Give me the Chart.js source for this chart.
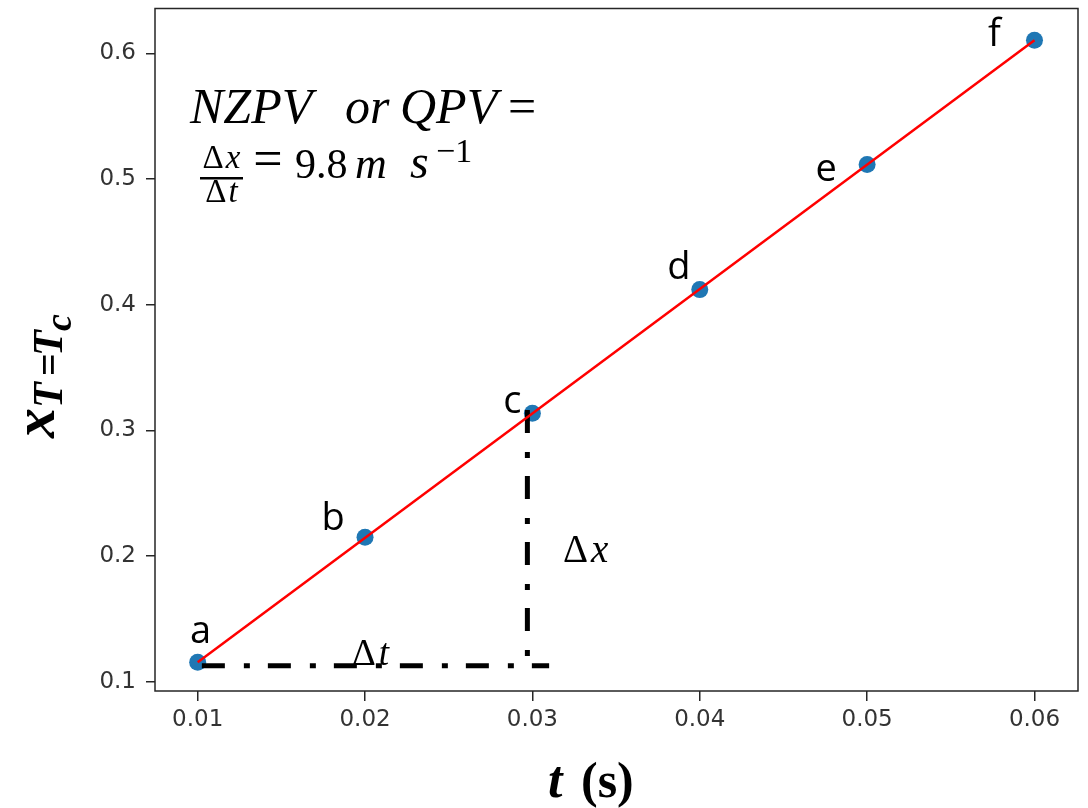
<!DOCTYPE html>
<html><head><meta charset="utf-8">
<script src="https://cdn.jsdelivr.net/npm/chart.js@4"></script>
<style>html,body{margin:0;padding:0;background:#fff}</style>
</head><body>
<canvas id="c" width="1088" height="808" style="display:block;width:1088px;height:808px"></canvas>
<script>
// ---- data ----
const pointLabels = ['a', 'b', 'c', 'd', 'e', 'f'];
const tValues = [0.01, 0.02, 0.03, 0.04, 0.05, 0.06];
const xValues = [0.1154, 0.215, 0.3136, 0.412, 0.5116, 0.6105];
const fitT = [0.01, 0.06];
const fitX = [0.1154, 0.6105];
const deltaTLineT = [0.01025, 0.0310];
const deltaTLineX = [0.1127, 0.1127];
const deltaXLineT = [0.0297, 0.0297];
const deltaXLineX = [0.3163, 0.1127];
const xTickValues = [0.01, 0.02, 0.03, 0.04, 0.05, 0.06];
const yTickValues = [0.1, 0.2, 0.3, 0.4, 0.5, 0.6];

// ---- styles ----
const labelOffsets = [[3, -19], [-32, -7], [-20, 0], [-21, -11], [-41, 17], [-40, 6]];
const pts = (xs, ys) => xs.map((v, i) => ({ x: v, y: ys[i] }));

const annot = {
  id: 'annot',
  afterDatasetsDraw(chart) {
    const ctx = chart.ctx;
    const { left, top, right, bottom } = chart.chartArea;
    ctx.save();
    ctx.strokeStyle = '#262626';
    ctx.lineWidth = 1.5;
    ctx.strokeRect(left, top, right - left, bottom - top);

    // point letters
    const meta = chart.getDatasetMeta(1);
    ctx.fillStyle = '#000';
    ctx.font = '38px "Open Sans"';
    ctx.textAlign = 'center';
    ctx.textBaseline = 'alphabetic';
    meta.data.forEach((el, i) => {
      const o = labelOffsets[i];
      ctx.fillText(pointLabels[i], el.x + o[0], el.y + o[1]);
    });

    const serif = '"Liberation Serif"';
    // delta t / delta x labels
    ctx.textAlign = 'left';
    ctx.font = '37px ' + serif;
    ctx.fillText('Δ', 352, 665);
    let w = ctx.measureText('Δ').width;
    ctx.font = 'italic 37px ' + serif;
    ctx.fillText('t', 352 + w + 3, 665);

    ctx.font = '39px ' + serif;
    ctx.fillText('Δ', 563, 562);
    w = ctx.measureText('Δ').width;
    ctx.font = 'italic 39px ' + serif;
    ctx.fillText('x', 563 + w + 3, 562);

    // formula
    ctx.font = 'italic 50px ' + serif;
    ctx.fillText('NZPV', 190, 123);
    ctx.fillText('or', 345, 123);
    ctx.fillText('QPV', 400, 123);
    ctx.font = '50px ' + serif;
    ctx.fillText('=', 508, 123);

    // fraction
    ctx.textAlign = 'left';
    ctx.font = '33px ' + serif;
    const dW = ctx.measureText('Δ').width;
    ctx.font = 'italic 33px ' + serif;
    const xW = ctx.measureText('x').width;
    const tW = ctx.measureText('t').width;
    let sx = 221.5 - (dW + xW + 2) / 2;
    ctx.font = '33px ' + serif; ctx.fillText('Δ', sx, 168);
    ctx.font = 'italic 33px ' + serif; ctx.fillText('x', sx + dW + 2, 168);
    sx = 221.5 - (dW + tW + 2) / 2;
    ctx.font = '33px ' + serif; ctx.fillText('Δ', sx, 202);
    ctx.font = 'italic 33px ' + serif; ctx.fillText('t', sx + dW + 2, 202);
    ctx.fillRect(200, 177, 43, 2.5);

    ctx.textAlign = 'center';
    ctx.font = '52px ' + serif;
    ctx.fillText('=', 268, 176);
    ctx.textAlign = 'left';
    ctx.font = '42px ' + serif;
    ctx.fillText('9.8', 295, 178);
    ctx.font = 'italic 44px ' + serif;
    ctx.fillText('m', 355, 178);
    ctx.font = 'italic 48px ' + serif;
    ctx.fillText('s', 410, 178);
    ctx.font = '34px ' + serif;
    ctx.fillText('−1', 436, 162);

    // x axis title
    ctx.font = 'bold italic 52px ' + serif;
    ctx.fillText('t', 548, 797);
    ctx.font = 'bold 50px ' + serif;
    ctx.fillText('(s)', 581, 797);

    // y axis title (rotated)
    ctx.save();
    ctx.translate(54, 438);
    ctx.rotate(-Math.PI / 2);
    ctx.font = 'bold italic 60px ' + serif;
    ctx.fillText('x', 0, 0);
    ctx.font = 'bold italic 42px ' + serif;
    ctx.fillText('T', 30, 8);
    ctx.font = 'bold 40px ' + serif;
    ctx.fillText('=', 62, 8);
    ctx.font = 'bold italic 42px ' + serif;
    ctx.fillText('T', 82, 8);
    ctx.font = 'bold italic 38px ' + serif;
    ctx.fillText('c', 107, 17);
    ctx.restore();

    ctx.restore();
  }
};

Chart.defaults.font.family = '"DejaVu Sans"';
new Chart(document.getElementById('c'), {
  type: 'scatter',
  data: {
    datasets: [
      { data: pts(fitT, fitX), showLine: true, borderColor: '#ff0000', borderWidth: 2.5, pointRadius: 0, order: 0 },
      { data: pts(tValues, xValues), showLine: false, backgroundColor: '#1f77b4', borderWidth: 0, pointRadius: 8.5, order: 1 },
      { data: pts(deltaTLineT, deltaTLineX), showLine: true, borderColor: '#000', borderWidth: 5, borderDash: [23, 19, 6, 18], borderCapStyle: 'butt', pointRadius: 0, order: 0 },
      { data: pts(deltaXLineT, deltaXLineX), showLine: true, borderColor: '#000', borderWidth: 5, borderDash: [23, 19, 6, 18], borderCapStyle: 'butt', pointRadius: 0, order: 0 }
    ]
  },
  options: {
    responsive: false,
    devicePixelRatio: 1,
    animation: false,
    layout: { padding: { top: 6, right: 10, left: 0, bottom: 0 } },
    plugins: { legend: { display: false }, tooltip: { enabled: false } },
    scales: {
      x: {
        type: 'linear', min: 0.00745, max: 0.0626,
        border: { display: false },
        grid: { display: true, drawOnChartArea: false, drawTicks: true, tickLength: 10, color: '#262626', lineWidth: 1.5 },
        ticks: { color: '#333', font: { size: 23 }, padding: 5, maxRotation: 0, callback: v => v.toFixed(2) },
        afterBuildTicks: s => { s.ticks = xTickValues.map(v => ({ value: v })); },
        afterFit: s => { s.height = 117; s.paddingLeft = 0; s.paddingRight = 0; }
      },
      y: {
        type: 'linear', min: 0.0926, max: 0.6357,
        border: { display: false },
        grid: { display: true, drawOnChartArea: false, drawTicks: true, tickLength: 9, color: '#262626', lineWidth: 1.5 },
        ticks: { color: '#333', font: { size: 23 }, padding: 10, callback: v => v.toFixed(1) },
        afterBuildTicks: s => { s.ticks = yTickValues.map(v => ({ value: v })); },
        afterFit: s => { s.width = 155; s.paddingTop = 0; s.paddingBottom = 0; }
      }
    }
  },
  plugins: [annot]
});
</script>
</body></html>
